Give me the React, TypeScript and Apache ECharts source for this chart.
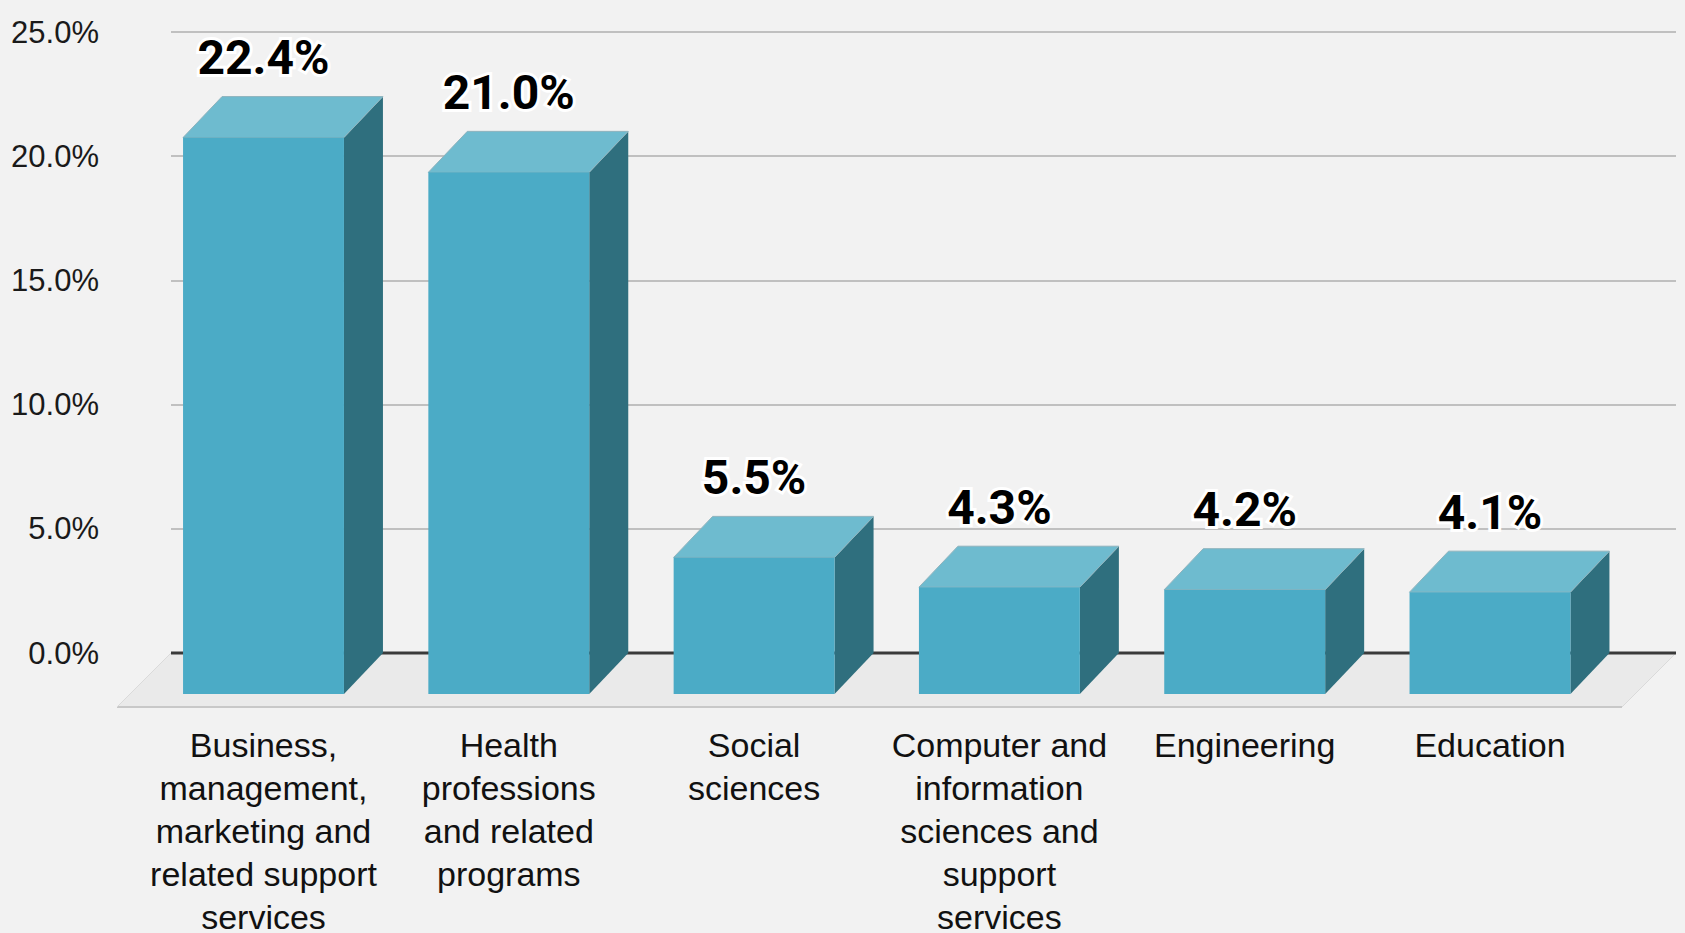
import React, { useEffect, useRef } from "react";
import * as echarts from "echarts";

const categories = [
  "Business,\nmanagement,\nmarketing and\nrelated support\nservices",
  "Health\nprofessions\nand related\nprograms",
  "Social\nsciences",
  "Computer and\ninformation\nsciences and\nsupport\nservices",
  "Engineering",
  "Education",
];
const shares = [22.4, 21.0, 5.5, 4.3, 4.2, 4.1];
const yTicks = [0, 5, 10, 15, 20, 25];

const FRONT = "#4BABC6";
const TOP = "#6EBBCF";
const SIDE = "#2F6F7E";

export default function App() {
  const ref = useRef<HTMLDivElement>(null);
  useEffect(() => {
    if (!ref.current) return;
    const chart = echarts.init(ref.current, undefined, { renderer: "svg" });
    const yMin = yTicks[0];
    const yMax = yTicks[yTicks.length - 1];
    const yInt = yTicks[1] - yTicks[0];
    const option: any = {
      animation: false,
      backgroundColor: "#f2f2f2",
      grid: [
        { left: 171, right: 9, top: 32, bottom: 280, outerBoundsMode: "none", containLabel: false },
        { left: 140.85, width: 1471.8, top: 32, bottom: 280, outerBoundsMode: "none", containLabel: false },
      ],
      xAxis: [
        { type: "category", gridIndex: 0, data: categories, show: false },
        {
          type: "category",
          gridIndex: 1,
          data: categories,
          axisLine: { show: false },
          axisTick: { show: false },
          axisLabel: {
            interval: 0,
            margin: 70,
            fontSize: 34,
            lineHeight: 43,
            color: "#111",
            fontFamily: "Liberation Sans",
          },
        },
      ],
      yAxis: [
        {
          type: "value",
          gridIndex: 0,
          min: yMin,
          max: yMax,
          interval: yInt,
          axisLine: { show: false },
          axisTick: { show: false },
          axisLabel: {
            margin: 72,
            fontSize: 31,
            color: "#1a1a1a",
            fontFamily: "Liberation Sans",
            formatter: (v: number) => v.toFixed(1) + "%",
          },
          splitLine: { lineStyle: { color: "#c0c0c0", width: 2 } },
        },
        { type: "value", gridIndex: 1, min: yMin, max: yMax, interval: yInt, show: false },
      ],
      series: [
        {
          type: "custom",
          xAxisIndex: 0,
          yAxisIndex: 0,
          z: 1,
          silent: true,
          data: [[0, 0]],
          renderItem: (params: any, api: any) => {
            const cs = params.coordSys;
            const y0 = api.coord([0, 0])[1];
            const x0 = cs.x;
            const x1 = cs.x + cs.width;
            const d = 54;
            return {
              type: "group",
              children: [
                {
                  type: "polygon",
                  shape: { points: [[x0, y0], [x1, y0], [x1 - d, y0 + d], [x0 - d, y0 + d]] },
                  style: { fill: "#eaeaea" },
                },
                {
                  type: "line",
                  shape: { x1: x0 - d, y1: y0 + d, x2: x1 - d, y2: y0 + d },
                  style: { stroke: "#c8c8c8", lineWidth: 2 },
                },
                {
                  type: "line",
                  shape: { x1: x0 - d, y1: y0 + d, x2: x0, y2: y0 },
                  style: { stroke: "#dadada", lineWidth: 1 },
                },
                {
                  type: "line",
                  shape: { x1: x1 - d, y1: y0 + d, x2: x1, y2: y0 },
                  style: { stroke: "#dadada", lineWidth: 1 },
                },
                {
                  type: "line",
                  shape: { x1: x0, y1: y0, x2: x1, y2: y0 },
                  style: { stroke: "#3a3a3a", lineWidth: 3 },
                },
              ],
            };
          },
        },
        {
          type: "custom",
          xAxisIndex: 1,
          yAxisIndex: 1,
          z: 3,
          data: shares.map((v, i) => [i, v]),
          renderItem: (params: any, api: any) => {
            const i = api.value(0);
            const v = api.value(1);
            const top = api.coord([i, v]);
            const base = api.coord([i, 0]);
            const w = api.size([1, 0])[0] * 0.656;
            const dx = 39;
            const dy = 41;
            const fl = top[0] - w / 2;
            const fr = top[0] + w / 2;
            const ft = top[1] + dy;
            const fb = base[1] + dy;
            return {
              type: "group",
              children: [
                {
                  type: "polygon",
                  shape: { points: [[fr, ft], [fr + dx, ft - dy], [fr + dx, fb - dy], [fr, fb]] },
                  style: { fill: SIDE },
                },
                {
                  type: "polygon",
                  shape: { points: [[fl, ft], [fr, ft], [fr + dx, ft - dy], [fl + dx, ft - dy]] },
                  style: { fill: TOP, stroke: "#8fb3bd", lineWidth: 1 },
                },
                {
                  type: "rect",
                  shape: { x: fl, y: ft, width: w, height: fb - ft },
                  style: { fill: FRONT },
                },
                {
                  type: "text",
                  style: {
                    text: v.toFixed(1) + "%",
                    x: top[0],
                    y: top[1] - 39,
                    align: "center",
                    verticalAlign: "middle",
                    font: "bold 48px Roboto",
                    fill: "#000",
                    stroke: "#fff",
                    lineWidth: 6,
                  },
                },
              ],
            };
          },
        },
      ],
    };
    chart.setOption(option);
    return () => chart.dispose();
  }, []);
  return (
    <div
      ref={ref}
      style={{ position: "fixed", left: 0, top: 0, width: 1685, height: 933, background: "#f2f2f2" }}
    />
  );
}
